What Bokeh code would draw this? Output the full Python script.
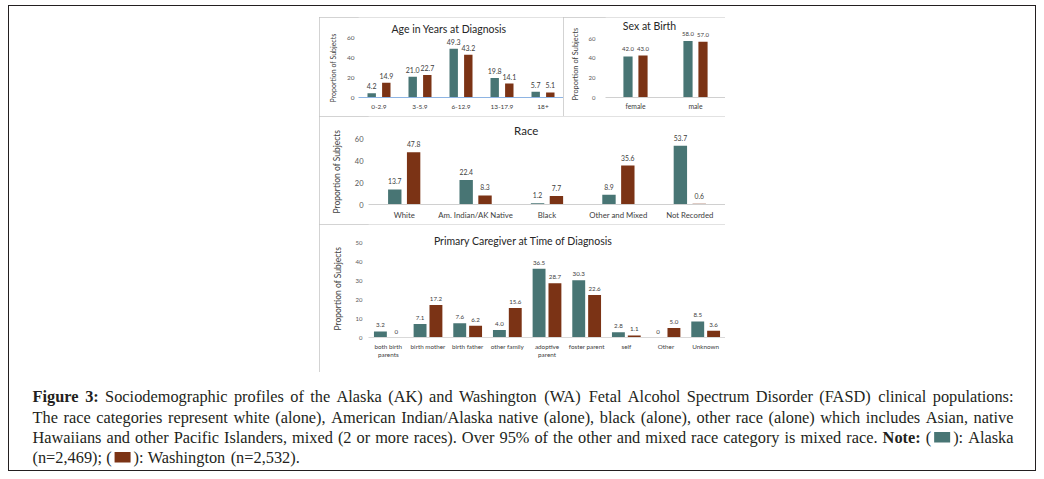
from bokeh.plotting import figure
from bokeh.models import FactorRange, Range1d, ColumnDataSource, Spacer, Title, LabelSet, FixedTicker
from bokeh.layouts import column, row
from bokeh.transform import dodge
from bokeh.core.properties import value
from bokeh.embed import file_html
from bokeh.resources import INLINE

AK_COLOR = "#487574"
WA_COLOR = "#7B3315"
CHART_FONT = "Lato"

# ---------------- data ----------------
age_cats = ["0-2.9", "3-5.9", "6-12.9", "13-17.9", "18+"]
age_ak = [4.2, 21.0, 49.3, 19.8, 5.7]
age_wa = [14.9, 22.7, 43.2, 14.1, 5.1]
age_ticks = [0, 20, 40, 60]

sex_cats = ["female", "male"]
sex_ak = [42.0, 58.0]
sex_wa = [43.0, 57.0]
sex_ticks = [0, 20, 40, 60]

race_cats = ["White", "Am. Indian/AK Native", "Black", "Other and Mixed", "Not Recorded"]
race_ak = [13.7, 22.4, 1.2, 8.9, 53.7]
race_wa = [47.8, 8.3, 7.7, 35.6, 0.6]
race_ticks = [0, 20, 40, 60]

care_cats = ["both birth\nparents", "birth mother", "birth father", "other family",
             "adoptive\nparent", "foster parent", "self", "Other", "Unknown"]
care_ak = [3.2, 7.1, 7.6, 4.0, 36.5, 30.3, 2.8, 0, 8.5]
care_wa = [0, 17.2, 6.2, 15.6, 28.7, 22.6, 1.1, 5.0, 3.6]
care_ticks = [0, 10, 20, 30, 40, 50]

y_label = "Proportion of Subjects"

caption_lines = [
    "*Figure *3: Sociodemographic profiles of the Alaska (AK) and Washington (WA) Fetal Alcohol Spectrum Disorder (FASD) clinical populations:",
    "The race categories represent white (alone), American Indian/Alaska native (alone), black (alone), other race (alone) which includes Asian, native",
    "Hawaiians and other Pacific Islanders, mixed (2 or more races). Over 95% of the other and mixed race category is mixed race. *Note: ([AK]): Alaska",
    "(n=2,469); ([WA]): Washington (n=2,532).",
]


def fmt(v):
    return "0" if v == 0 else f"{v:.1f}"


def make_panel(cats, ak, wa, ticks, title, c):
    h, bb = c["h"], c["bb"]
    base_rel = h - bb                      # baseline, px from figure top
    y_end = ticks[-1] * base_rel / (base_rel - c["toptick"])
    p = figure(width=c["w"], height=h, x_range=FactorRange(factors=cats),
               y_range=Range1d(0, y_end), toolbar_location=None, tools="",
               output_backend="svg", min_border_left=c["bl"], min_border_right=0,
               min_border_top=0, min_border_bottom=bb,
               background_fill_color="white", border_fill_color="white",
               styles={"outline": "1px solid #c4c4c4", "outline-offset": "-1px"})
    p.outline_line_color = None
    p.xgrid.grid_line_color = None
    p.ygrid.grid_line_color = None

    src = ColumnDataSource(dict(cat=cats, ak=ak, wa=wa,
                                ak_lbl=[fmt(v) for v in ak],
                                wa_lbl=[fmt(v) for v in wa]))
    for fld, col, sgn in (("ak", AK_COLOR, -1), ("wa", WA_COLOR, 1)):
        p.vbar(x=dodge("cat", sgn * c["off"], range=p.x_range), top=fld, width=c["bw"],
               bottom=0, source=src, fill_color=col, line_color=None)
        p.add_layout(LabelSet(x=dodge("cat", sgn * c["off"], range=p.x_range), y=fld,
                              text=fld + "_lbl", source=src, y_offset=c["voff"],
                              text_align="center", text_baseline="bottom",
                              text_font=value(CHART_FONT),
                              text_font_size=f'{c["vfs"]}px', text_color="#404040"))

    # chart title, inside the frame near its top
    p.text(x=[cats[0]], y=[y_end], text=[title], x_offset=c["tx"], y_offset=c["ty"],
           text_align="center", text_baseline="middle", text_font=value(CHART_FONT),
           text_font_size=f'{c["tfs"]}px', text_color="#262626")

    # y axis title as a side title so it can be aligned like the original
    p.add_layout(Title(text=y_label, align="left", offset=c["loff"], standoff=c["lstand"],
                       text_font=CHART_FONT, text_font_size=f'{c["lfs"]}px',
                       text_font_style="normal", text_color="#404040"), "left")

    xa = p.xaxis[0]
    xa.axis_line_color = c["base"]
    xa.axis_line_width = 1
    xa.major_tick_line_color = None
    xa.minor_tick_line_color = None
    xa.major_tick_out = 0
    xa.major_label_standoff = c["xstand"]
    xa.major_label_text_font = CHART_FONT
    xa.major_label_text_font_size = f'{c["xfs"]}px'
    xa.major_label_text_color = "#404040"

    ya = p.yaxis[0]
    ya.ticker = FixedTicker(ticks=ticks)
    ya.axis_line_color = None
    ya.major_tick_line_color = None
    ya.minor_tick_line_color = None
    ya.major_tick_out = 0
    ya.major_label_standoff = c["ystand"]
    ya.major_label_text_font = CHART_FONT
    ya.major_label_text_font_size = f'{c["yfs"]}px'
    ya.major_label_text_color = "#595959"
    return p


age_p = make_panel(age_cats, age_ak, age_wa, age_ticks, "Age in Years at Diagnosis",
                   dict(w=244, h=99, bl=37, bb=19, toptick=20.7, tfs=10.5, tx=70, ty=11,
                        base="#8EB4E3", bw=0.205, off=0.178, xfs=6.5, xstand=7,
                        yfs=6.5, ystand=4, lfs=7, lstand=14, loff=-5, vfs=7, voff=4))
sex_p = make_panel(sex_cats, sex_ak, sex_wa, sex_ticks, "Sex at Birth",
                   dict(w=162, h=99, bl=42, bb=12, toptick=23.3, tfs=10.5, tx=14, ty=8,
                        base="#D0D0D0", bw=0.153, off=0.125, xfs=6.8, xstand=4,
                        yfs=6, ystand=10, lfs=7.4, lstand=11, loff=-3, vfs=6, voff=5))
race_p = make_panel(race_cats, race_ak, race_wa, race_ticks, "Race",
                    dict(w=406, h=108, bl=46, bb=20, toptick=22.3, tfs=11.5, tx=122, ty=14,
                         base="#D0D0D0", bw=0.1875, off=0.132, xfs=7.8, xstand=5,
                         yfs=7.5, ystand=5, lfs=8.5, lstand=20, loff=-9, vfs=6.8, voff=5))
care_p = make_panel(care_cats, care_ak, care_wa, care_ticks, "Primary Caregiver at Time of Diagnosis",
                    dict(w=406, h=148, bl=47, bb=35, toptick=18.7, tfs=10.5, tx=135, ty=16,
                         base="#D9D9D9", bw=0.325, off=0.2, xfs=6.3, xstand=5,
                         yfs=6, ystand=6, lfs=8.5, lstand=20, loff=7, vfs=6.2, voff=4))

# ---------------- caption ----------------
TIMES_W = {' ': 250, '!': 333, '%': 833, '(': 333, ')': 333, ',': 250, '-': 333, '.': 250,
           '/': 278, ':': 278, ';': 278, '=': 564,
           'A': 722, 'B': 667, 'C': 667, 'D': 722, 'E': 611, 'F': 556, 'G': 722, 'H': 722,
           'I': 333, 'J': 389, 'K': 722, 'L': 611, 'M': 889, 'N': 722, 'O': 722, 'P': 556,
           'Q': 722, 'R': 667, 'S': 556, 'T': 611, 'U': 722, 'V': 722, 'W': 944, 'X': 722,
           'Y': 722, 'Z': 611,
           'a': 444, 'b': 500, 'c': 444, 'd': 500, 'e': 444, 'f': 333, 'g': 500, 'h': 500,
           'i': 278, 'j': 278, 'k': 500, 'l': 278, 'm': 778, 'n': 500, 'o': 500, 'p': 500,
           'q': 500, 'r': 333, 's': 389, 't': 278, 'u': 500, 'v': 500, 'w': 722, 'x': 500,
           'y': 500, 'z': 444}
TIMES_BW = {'F': 611, 'i': 278, 'g': 500, 'u': 556, 'r': 444, 'e': 444, ' ': 250, '3': 500,
            ':': 333, 'N': 722, 'o': 500, 't': 333}


def tw(s, bold):
    tb = TIMES_BW if bold else TIMES_W
    return sum(tb.get(ch, TIMES_W.get(ch, 500)) for ch in s) / 1000.0


BOX_W, BOX_H, BOX_PAD = 16, 10.5, 3
BOXES = {"[AK]": AK_COLOR, "[WA]": WA_COLOR}


def parse_word(w):
    bold = w.startswith("*")
    if bold:
        w = w[1:]
    for key, col in BOXES.items():
        if key in w:
            a, b = w.split(key)
            return [("t", a, bold), ("box", col), ("t", b, bold)]
    return [("t", w, bold)]


def token_width(tok, fs):
    wd = 0.0
    for seg in tok:
        if seg[0] == "t":
            wd += tw(seg[1], seg[2]) * fs
        else:
            wd += BOX_W + 2 * BOX_PAD
    return wd


CAP_W, CAP_H = 1028, 99
CAP_LEFT, CAP_RIGHT = 24, 1005
BASELINES = [28.7, 49.0, 69.0, 89.0]      # visual baselines, px from caption top
TEXT_SHIFT = 4.5                          # renderer places alphabetic text slightly lower
avail = CAP_RIGHT - CAP_LEFT

lines_tokens = [[parse_word(w) for w in ln.split(" ")] for ln in caption_lines]
fs_cands = []
for toks in lines_tokens[:3]:
    fixed = sum(BOX_W + 2 * BOX_PAD for t in toks for s in t if s[0] == "box")
    nat1 = sum(token_width(t, 1.0) for t in toks) - fixed + 0.25 * (len(toks) - 1)
    fs_cands.append((avail - fixed) / nat1)
FS = min(16.5, min(fs_cands)) * 0.99

cap = figure(width=CAP_W, height=CAP_H, x_range=Range1d(0, CAP_W), y_range=Range1d(CAP_H, 0),
             toolbar_location=None, tools="", output_backend="svg", min_border=0,
             x_axis_type=None, y_axis_type=None,
             background_fill_color=None, border_fill_color=None)
cap.outline_line_color = None
cap.grid.visible = False

norm = dict(x=[], y=[], text=[])
bold = dict(x=[], y=[], text=[])
boxes = dict(left=[], right=[], top=[], bottom=[], color=[])
for i, toks in enumerate(lines_tokens):
    widths = [token_width(t, FS) for t in toks]
    if i < 3:
        gap = (avail - sum(widths)) / (len(toks) - 1)
    else:
        gap = 0.25 * FS
    x = CAP_LEFT
    base = BASELINES[i]
    for t, wdt in zip(toks, widths):
        cx = x
        for seg in t:
            if seg[0] == "t":
                if seg[1]:
                    d = bold if seg[2] else norm
                    d["x"].append(cx)
                    d["y"].append(base - TEXT_SHIFT)
                    d["text"].append(seg[1])
                cx += tw(seg[1], seg[2]) * FS
            else:
                boxes["left"].append(cx + BOX_PAD)
                boxes["right"].append(cx + BOX_PAD + BOX_W)
                boxes["top"].append(base + 1 - BOX_H)
                boxes["bottom"].append(base + 1)
                boxes["color"].append(seg[1])
                cx += BOX_W + 2 * BOX_PAD
        x += wdt + gap

for d, style in ((norm, "normal"), (bold, "bold")):
    cap.text(x="x", y="y", text="text", source=ColumnDataSource(d),
             text_font=value("Liberation Serif"), text_font_size=f"{FS:.2f}px",
             text_font_style=style, text_baseline="alphabetic", text_align="left",
             text_color="#231f20")
cap.quad(left="left", right="right", top="top", bottom="bottom", color="color",
         source=ColumnDataSource(boxes), line_color=None)

panels = column(row(age_p, sex_p), race_p, care_p)
framed = column(Spacer(width=1028, height=12),
                row(Spacer(width=311, height=355), panels),
                cap,
                styles={"outline": "1.5px solid #231f20", "outline-offset": "-1.5px"})
page = column(Spacer(width=1036, height=5), row(Spacer(width=8, height=466), framed))

open("out.html", "w").write(file_html(page, INLINE))
